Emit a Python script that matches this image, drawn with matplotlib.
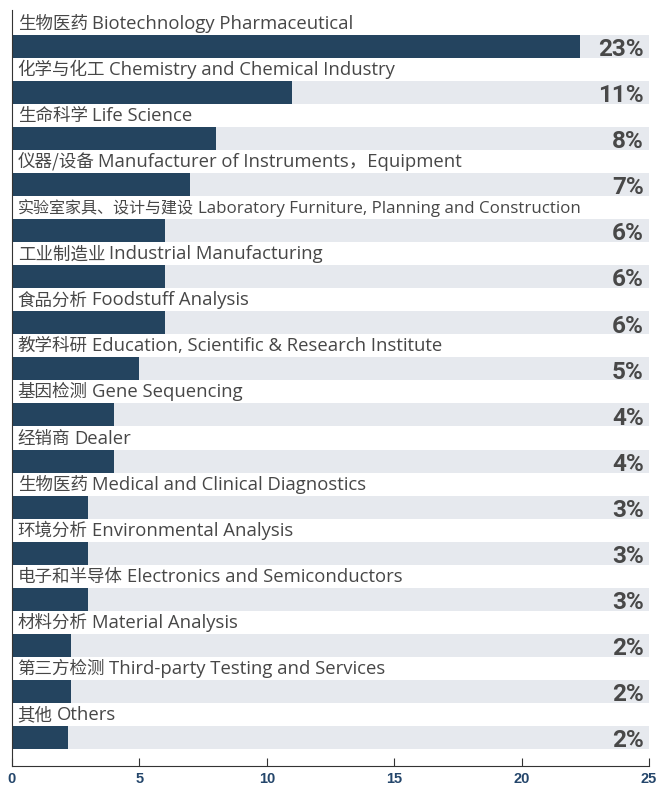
import matplotlib
matplotlib.use("Agg")
import matplotlib.pyplot as plt
import numpy as np

plt.rcParams['font.family'] = ['Open Sans', 'Noto Sans CJK SC', 'DejaVu Sans']

labels = [
    "生物医药 Biotechnology Pharmaceutical",
    "化学与化工 Chemistry and Chemical Industry",
    "生命科学 Life Science",
    "仪器/设备 Manufacturer of Instruments，Equipment",
    "实验室家具、设计与建设 Laboratory Furniture, Planning and Construction",
    "工业制造业 Industrial Manufacturing",
    "食品分析 Foodstuff Analysis",
    "教学科研 Education, Scientific & Research Institute",
    "基因检测 Gene Sequencing",
    "经销商 Dealer",
    "生物医药 Medical and Clinical Diagnostics",
    "环境分析 Environmental Analysis",
    "电子和半导体 Electronics and Semiconductors",
    "材料分析 Material Analysis",
    "第三方检测 Third-party Testing and Services",
    "其他 Others",
]
values = [22.3, 11, 8, 7, 6, 6, 6, 5, 4, 4, 3, 3, 3, 2.3, 2.3, 2.2]
pct_labels = ["23%", "11%", "8%", "7%", "6%", "6%", "6%", "5%", "4%", "4%",
              "3%", "3%", "3%", "2%", "2%", "2%"]
xmax = 25

navy = "#24445f"
grey_bg = "#e6e9ee"
txt_col = "#474747"

fig = plt.figure(figsize=(6.6, 7.87), dpi=100)
ax = fig.add_axes([12 / 660, 21 / 787, (649 - 12) / 660, (766 - 10) / 787])

y = np.arange(len(labels))
ax.barh(y, [xmax] * len(labels), height=0.5, color=grey_bg, zorder=1)
ax.barh(y, values, height=0.5, color=navy, zorder=2)

ax.set_xlim(0, xmax)
ax.set_ylim(15.62, -0.79)

fig.canvas.draw()
renderer = fig.canvas.get_renderer()
inv = ax.transData.inverted()
max_px = 574  # long labels get squeezed to fit, like the original

for i, (lab, p) in enumerate(zip(labels, pct_labels)):
    cn, en = lab.split(" ", 1)
    size_cn, size_en = 12.6, 13.3
    for _ in range(10):
        t_cn = ax.text(0.22, i - 0.38, cn, ha="left", va="baseline", fontsize=size_cn,
                       family=["Noto Sans CJK SC"], color=txt_col, zorder=3)
        bb = t_cn.get_window_extent(renderer)
        x_en = inv.transform((bb.x1 + 4, 0))[0]
        t_en = ax.text(x_en, i - 0.38, en, ha="left", va="baseline", fontsize=size_en,
                       family=["Open Sans", "Noto Sans CJK SC"], color=txt_col, zorder=3)
        w = t_en.get_window_extent(renderer).x1 - ax.bbox.x0
        if w <= max_px:
            break
        t_cn.remove()
        t_en.remove()
        size_cn *= 0.985
        size_en *= 0.985
    ax.text(xmax - 0.2, i + 0.07, p, ha="right", va="center", fontsize=17.5,
            family=["Roboto"], fontweight="bold", color="#484848", zorder=3)

ax.set_yticks([])
ax.set_xticks([0, 5, 10, 15, 20, 25])
ax.tick_params(axis="x", direction="in", length=6, color="#333333", labelsize=10.5,
               labelcolor="#24466b", pad=4)
for t in ax.get_xticklabels():
    t.set_fontweight("bold")
    t.set_family("Liberation Sans")
ax.spines["top"].set_visible(False)
ax.spines["right"].set_visible(False)
ax.spines["left"].set_color("#333333")
ax.spines["bottom"].set_color("#333333")

plt.savefig("out.png", dpi=100)
